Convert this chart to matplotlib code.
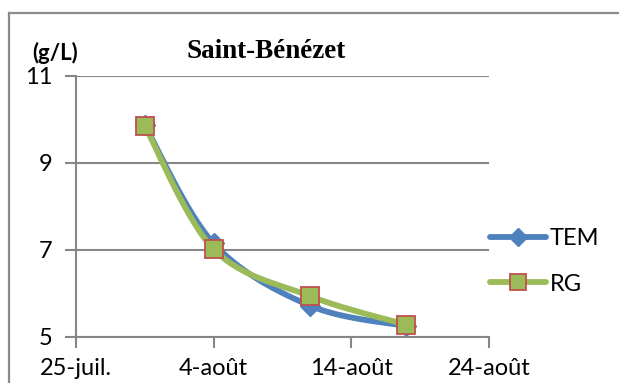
import numpy as np
import matplotlib
matplotlib.use('Agg')
import matplotlib.pyplot as plt
import matplotlib.dates as mdates
from matplotlib.lines import Line2D

# sampling dates and concentrations (g/L)
dates = np.array(['2013-07-30', '2013-08-04', '2013-08-11', '2013-08-18'], dtype='datetime64[D]')
tem = [9.87, 7.15, 5.72, 5.25]
rg = [9.85, 7.02, 5.94, 5.28]

xticks = np.array(['2013-07-25', '2013-08-04', '2013-08-14', '2013-08-24'], dtype='datetime64[D]')
xticklabels = ['25-juil.', '4-août', '14-août', '24-août']
yticks = [5, 7, 9, 11]

blue = '#4f81bd'
green = '#9bbb59'
red = '#c0504d'
grey = '#868686'
sans = ['Lato', 'DejaVu Sans']


def smooth(x, y, n=40):
    # Catmull-Rom style bezier through the points (like a smoothed line in a spreadsheet)
    x = np.asarray(x, float)
    y = np.asarray(y, float)
    px = np.concatenate([[x[0]], x, [x[-1]]])
    py = np.concatenate([[y[0]], y, [y[-1]]])
    xs, ys = [], []
    t = np.linspace(0, 1, n)
    for i in range(1, len(px) - 2):
        p0 = np.array([px[i], py[i]])
        p3 = np.array([px[i + 1], py[i + 1]])
        c1 = p0 + (np.array([px[i + 1], py[i + 1]]) - np.array([px[i - 1], py[i - 1]])) / 6
        c2 = p3 - (np.array([px[i + 2], py[i + 2]]) - np.array([px[i], py[i]])) / 6
        b = ((1 - t) ** 3)[:, None] * p0 + (3 * (1 - t) ** 2 * t)[:, None] * c1 \
            + (3 * (1 - t) * t ** 2)[:, None] * c2 + (t ** 3)[:, None] * p3
        xs.append(b[:, 0])
        ys.append(b[:, 1])
    return np.concatenate(xs), np.concatenate(ys)


fig = plt.figure(figsize=(6.19, 3.83), dpi=100)
ax = fig.add_axes([76 / 619, 1 - 337 / 383, (489 - 76) / 619, (337 - 76) / 383])

# outer chart frame (only top and left edges fall inside the image)
fig.add_artist(Line2D([8.5 / 619, 8.5 / 619], [-0.1, 1 - 12.5 / 383], transform=fig.transFigure,
                      color='#8c8c8c', lw=1.6))
fig.add_artist(Line2D([8.5 / 619, 1.1], [1 - 12.5 / 383, 1 - 12.5 / 383], transform=fig.transFigure,
                      color='#8c8c8c', lw=1.6))

xn = mdates.date2num(dates)
sx, sy = smooth(xn, tem)
ax.plot(sx, sy, color=blue, lw=4.2, solid_capstyle='round', zorder=3)
ax.plot(xn, tem, ls='none', marker='D', ms=10, color=blue, zorder=3)
sx, sy = smooth(xn, rg)
ax.plot(sx, sy, color=green, lw=4.2, solid_capstyle='round', zorder=4)
ax.plot(xn, rg, ls='none', marker='s', ms=13, mfc=green, mec=red, mew=1.3, zorder=5)

ax.set_xlim(mdates.date2num(xticks[0]), mdates.date2num(xticks[-1]))
ax.set_ylim(5, 11)
ax.set_xticks(mdates.date2num(xticks))
ax.set_xticklabels(xticklabels, fontfamily=sans, fontsize=17)
ax.set_yticks(yticks)
ax.set_yticklabels([str(v) for v in yticks], fontfamily=sans, fontsize=17)
ax.yaxis.grid(True, color=grey, lw=1.5)
ax.set_axisbelow(True)
ax.tick_params(axis='both', colors=grey, length=8, width=1.5, labelcolor='black')
ax.tick_params(axis='y', pad=9)
ax.tick_params(axis='x', pad=7)
for side in ['top', 'right']:
    ax.spines[side].set_visible(False)
for side in ['left', 'bottom']:
    ax.spines[side].set_color(grey)
    ax.spines[side].set_linewidth(1.5)

ax.text(0.46, 1.045, 'Saint-Bénézet', transform=ax.transAxes, ha='center', va='bottom',
        fontfamily='Liberation Serif', fontweight='bold', fontsize=19.5)
fig.text(55 / 619, 1 - 53 / 383, '(g/L)', ha='center', va='center',
         fontfamily=sans, fontweight='bold', fontsize=16)

handles = [Line2D([], [], color=blue, lw=4.2, marker='D', ms=9, solid_capstyle='round'),
           Line2D([], [], color=green, lw=4.2, marker='s', ms=12, mfc=green, mec=red, mew=1.3,
                  solid_capstyle='round')]
ax.legend(handles, ['TEM', 'RG'], loc='center left', bbox_to_anchor=(1.003, 0.29), frameon=False,
          prop={'family': sans, 'size': 17}, handlelength=2.35, handletextpad=0.17,
          labelspacing=1.05, borderpad=0, borderaxespad=0)

fig.savefig('out.png', dpi=100)
